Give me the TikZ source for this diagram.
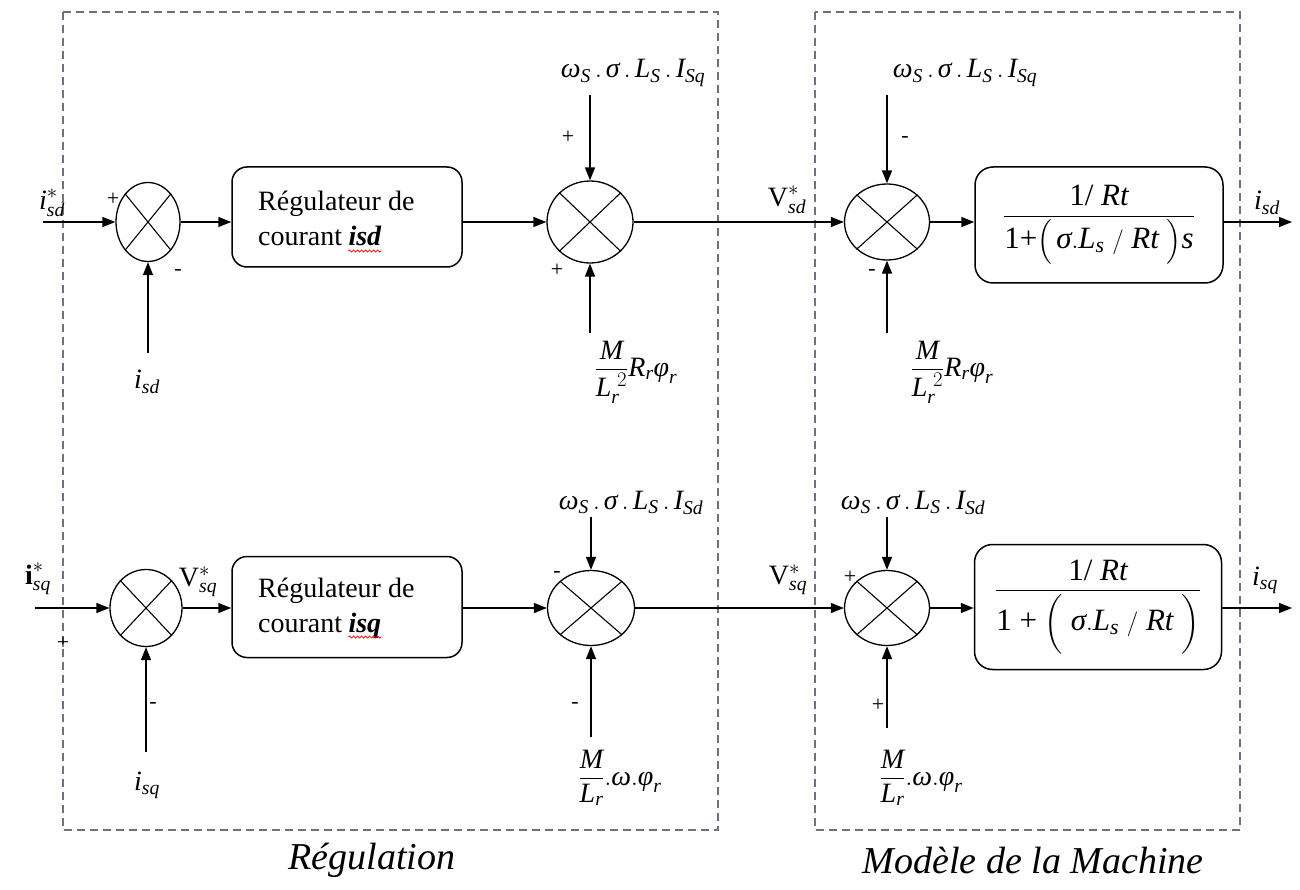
\documentclass[tikz,border=0pt]{standalone}
\usepackage{amsmath}
\usepackage{fontspec}
\setmainfont{Liberation Serif}
\usetikzlibrary{shapes.geometric,arrows.meta,decorations.pathmorphing}
\newcommand{\mi}[1]{\textit{#1}}
\newcommand{\wsig}[1]{$\mi{ω}_{\mi{S}}\,.\,\mi{σ}\,.\,\mi{L}_{\mi{S}}\,.\,\mi{I}_{\mi{#1}}$}
\definecolor{framegray}{RGB}{112,112,132}
\tikzset{
  sumnode/.style={ellipse, draw, line width=1.3pt, inner sep=0pt},
  blk/.style={rectangle, rounded corners=15pt, draw, line width=1.5pt, inner sep=0pt},
  sig/.style={-{Triangle[length=13pt,width=10pt]}, line width=1.5pt},
  dashframe/.style={draw=framegray, dash pattern=on 8pt off 5pt, line width=1.3pt},
  sgn/.style={font=\fontsize{22}{22}\selectfont, inner sep=0pt},
  lbl/.style={font=\fontsize{28}{32}\selectfont, inner sep=0pt},
  txt/.style={font=\fontsize{28}{32}\selectfont, inner sep=0pt, anchor=base west},
  tftxt/.style={font=\fontsize{31}{36}\selectfont},
  captxt/.style={font=\fontsize{38}{44}\selectfont\itshape, inner sep=0pt},
  wavy/.style={red, line width=0.8pt, decorate, decoration={snake, amplitude=1pt, segment length=4pt}}
}
\begin{document}
\begin{tikzpicture}[x=1pt,y=-1pt]
\useasboundingbox (0,0) rectangle (1300,890);

% dashed frames
\draw[dashframe] (63,12) rectangle (718,830);
\draw[dashframe] (815,12) rectangle (1240,830);

% summing junctions
\node[sumnode, minimum width=64pt, minimum height=79pt] (s1) at (148,222) {};
\node[sumnode, minimum width=86pt, minimum height=82pt] (s2) at (590,222) {};
\node[sumnode, minimum width=85pt, minimum height=76pt] (s3) at (887,222) {};
\node[sumnode, minimum width=72pt, minimum height=77pt] (s4) at (146,608) {};
\node[sumnode, minimum width=87pt, minimum height=75pt] (s5) at (591,608) {};
\node[sumnode, minimum width=85pt, minimum height=75pt] (s6) at (887,608) {};
\foreach \s in {s1,s2,s3,s4,s5,s6}{
  \draw[line width=1.1pt] (\s.north west) -- (\s.south east) (\s.north east) -- (\s.south west);
}

% blocks
\node[blk, minimum width=230pt, minimum height=100pt] (b1) at (347,217) {};
\node[blk, minimum width=230pt, minimum height=101pt] (b2) at (347,607) {};
\node[blk, tftxt, rounded corners=18pt, minimum width=248pt, minimum height=116pt] (t1) at (1099,225)
  {$\dfrac{\text{1/ }\mi{Rt}}{\text{1+}\Big(\,\mi{σ}.\mi{L}_{\mi{s}}\ /\ \mi{Rt}\ \Big)\mi{s}}$};
\node[blk, tftxt, rounded corners=18pt, minimum width=247pt, minimum height=125pt] (t2) at (1098,607)
  {$\dfrac{\text{1/ }\mi{Rt}}{\text{1 + }\bigg(\ \mi{σ}.\mi{L}_{\mi{s}}\ /\ \mi{Rt}\ \bigg)}$};

% block texts
\node[txt] (r1a) at (258,211) {Régulateur de};
\node[txt] (r1b) at (258,246) {courant};
\node[txt, anchor=base west, font=\fontsize{28}{32}\selectfont\bfseries\itshape] (r1c) at ([xshift=6pt]r1b.base east) {isd};
\draw[wavy] ([yshift=-5pt]r1c.base west) -- ([yshift=-5pt]r1c.base east);
\node[txt] (r2a) at (258,597) {Régulateur de};
\node[txt] (r2b) at (258,632) {courant};
\node[txt, anchor=base west, font=\fontsize{28}{32}\selectfont\bfseries\itshape] (r2c) at ([xshift=6pt]r2b.base east) {isq};
\draw[wavy] ([yshift=-5pt]r2c.base west) -- ([yshift=-5pt]r2c.base east);

% free ends of the signals
\coordinate (in1) at (43,222);
\coordinate (fb1) at (148,353);
\coordinate (a2) at (590,95);
\coordinate (b2s) at (590,333);
\coordinate (a3) at (887,95);
\coordinate (b3s) at (887,333);
\coordinate (out1) at (1292,222);
\coordinate (in2) at (35,608);
\coordinate (fb2) at (146,752);
\coordinate (a5) at (591,517);
\coordinate (b5s) at (591,737);
\coordinate (a6) at (887,517);
\coordinate (b6s) at (887,728);
\coordinate (out2) at (1292,608);

% d-axis chain
\draw[sig] (in1) -- (s1.west);
\draw[sig] (fb1) -- (s1.south);
\draw[sig] (s1.east) -- (s1.east -| b1.west);
\draw[sig] (b1.east |- s2.west) -- (s2.west);
\draw[sig] (a2) -- (s2.north);
\draw[sig] (b2s) -- (s2.south);
\draw[sig] (s2.east) -- (s3.west);
\draw[sig] (a3) -- (s3.north);
\draw[sig] (b3s) -- (s3.south);
\draw[sig] (s3.east) -- (s3.east -| t1.west);
\draw[sig] (t1.east |- s3.east) -- (out1);

% q-axis chain
\draw[sig] (in2) -- (s4.west);
\draw[sig] (fb2) -- (s4.south);
\draw[sig] (s4.east) -- (s4.east -| b2.west);
\draw[sig] (b2.east |- s5.west) -- (s5.west);
\draw[sig] (a5) -- (s5.north);
\draw[sig] (b5s) -- (s5.south);
\draw[sig] (s5.east) -- (s6.west);
\draw[sig] (a6) -- (s6.north);
\draw[sig] (b6s) -- (s6.south);
\draw[sig] (s6.east) -- (s6.east -| t2.west);
\draw[sig] (t2.east |- s6.east) -- (out2);

% signal labels, d-axis
\node[lbl] (l-isdref) at (52,203) {$\mi{i}^{*}_{\mi{sd}}$};
\node[lbl] (l-isd) at (147,382) {$\mi{i}_{\mi{sd}}$};
\node[lbl] (l-w2) at (633,73) {\wsig{Sq}};
\node[lbl] (l-f2) at (636,372) {$\dfrac{\mi{M}}{\mi{L}_{\mi{r}}^{\;2}}\mi{R}_{\mi{r}}\mi{φ}_{\mi{r}}$};
\node[lbl] (l-vsd) at (787,200) {$\text{V}^{*}_{\mi{sd}}$};
\node[lbl] (l-w3) at (965,73) {\wsig{Sq}};
\node[lbl] (l-f3) at (952,372) {$\dfrac{\mi{M}}{\mi{L}_{\mi{r}}^{\;2}}\mi{R}_{\mi{r}}\mi{φ}_{\mi{r}}$};
\node[lbl] (l-osd) at (1267,203) {$\mi{i}_{\mi{sd}}$};

% signal labels, q-axis
\node[lbl] (l-isqref) at (38,579) {$\textbf{i}^{*}_{\mi{sq}}$};
\node[lbl] (l-vsq1) at (198,582) {$\text{V}^{*}_{\mi{sq}}$};
\node[lbl] (l-isq) at (147,785) {$\mi{i}_{\mi{sq}}$};
\node[lbl] (l-w5) at (631,503) {\wsig{Sd}};
\node[lbl] (l-f5) at (620,778) {$\dfrac{\mi{M}}{\mi{L}_{\mi{r}}}.\mi{ω}.\mi{φ}_{\mi{r}}$};
\node[lbl] (l-vsq2) at (788,580) {$\text{V}^{*}_{\mi{sq}}$};
\node[lbl] (l-w6) at (913,503) {\wsig{Sd}};
\node[lbl] (l-f6) at (921,778) {$\dfrac{\mi{M}}{\mi{L}_{\mi{r}}}.\mi{ω}.\mi{φ}_{\mi{r}}$};
\node[lbl] (l-osq) at (1265,580) {$\mi{i}_{\mi{sq}}$};

% signs at the junctions
\node[sgn] (g11) at (113,199) {+};
\node[sgn] (g12) at (178,272) {-};
\node[sgn] (g21) at (568,137) {+};
\node[sgn] (g22) at (557,270) {+};
\node[sgn] (g31) at (905,140) {-};
\node[sgn] (g32) at (872,272) {-};
\node[sgn] (g41) at (63,643) {+};
\node[sgn] (g42) at (153,705) {-};
\node[sgn] (g51) at (557,574) {-};
\node[sgn] (g52) at (575,705) {-};
\node[sgn] (g61) at (850,577) {+};
\node[sgn] (g62) at (878,705) {+};

% captions
\node[captxt] (c1) at (372,860) {Régulation};
\node[captxt] (c2) at (1033,860) {Modèle de la Machine};
\end{tikzpicture}
\end{document}
